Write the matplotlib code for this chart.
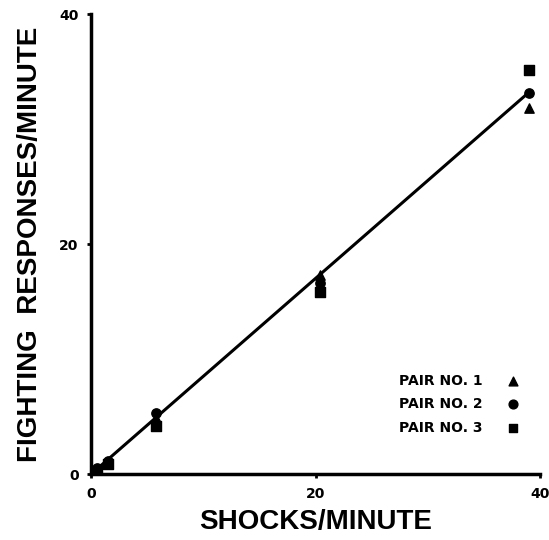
import numpy as np
import matplotlib.pyplot as plt

plt.rcParams['font.family'] = ['Liberation Sans', 'DejaVu Sans']

# shock rate (per minute) and fighting responses for each pair
shocks_1 = [0.5, 1.5, 5.8, 20.4, 39.0]
fights_1 = [0.4, 1.0, 4.9, 17.3, 31.8]
shocks_2 = [0.5, 1.5, 5.8, 20.4, 39.0]
fights_2 = [0.5, 1.1, 5.3, 16.6, 33.1]
shocks_3 = [0.5, 1.5, 5.8, 20.4, 39.0]
fights_3 = [0.3, 0.9, 4.2, 15.8, 35.1]

pairs = ['PAIR NO. 1', 'PAIR NO. 2', 'PAIR NO. 3']
markers = ['^', 'o', 's']

# fitted line through origin
fit_x = [0, 39.0]
fit_y = [0, 33.2]

label_font = ['Liberation Sans', 'DejaVu Sans']
small_font = ['DejaVu Sans']

fig = plt.figure(figsize=(5.49, 5.4), dpi=100)
ax = fig.add_axes([0.166, 0.122, 0.818, 0.852])

ax.plot(fit_x, fit_y, color='black', linewidth=2.2, zorder=2)
for xs, ys, m in zip([shocks_1, shocks_2, shocks_3], [fights_1, fights_2, fights_3], markers):
    ax.scatter(xs, ys, marker=m, s=45, color='black', zorder=3)

# key in lower right
key_y = [8.1, 6.1, 4.0]
for name, m, ky in zip(pairs, markers, key_y):
    ax.text(34.9, ky, name, ha='right', va='center', fontsize=10,
            fontweight='bold', family=small_font)
    ax.scatter([37.6], [ky], marker=m, s=40, color='black')

ax.set_xlim(0, 40)
ax.set_ylim(0, 40)
ax.set_xticks([0, 20, 40])
ax.set_yticks([0, 20, 40])
ax.tick_params(labelsize=10, width=2, length=3, pad=6)
for lab in ax.get_xticklabels() + ax.get_yticklabels():
    lab.set_fontweight('bold')
    lab.set_family(small_font)

for side in ['top', 'right']:
    ax.spines[side].set_visible(False)
for side in ['left', 'bottom']:
    ax.spines[side].set_linewidth(2.5)

ax.set_xlabel('SHOCKS/MINUTE', fontsize=20, fontweight='bold',
              family=label_font, labelpad=6)
ax.set_ylabel('FIGHTING  RESPONSES/MINUTE', fontsize=20, fontweight='bold',
              family=label_font, labelpad=12)

fig.savefig('out.png', dpi=100)
